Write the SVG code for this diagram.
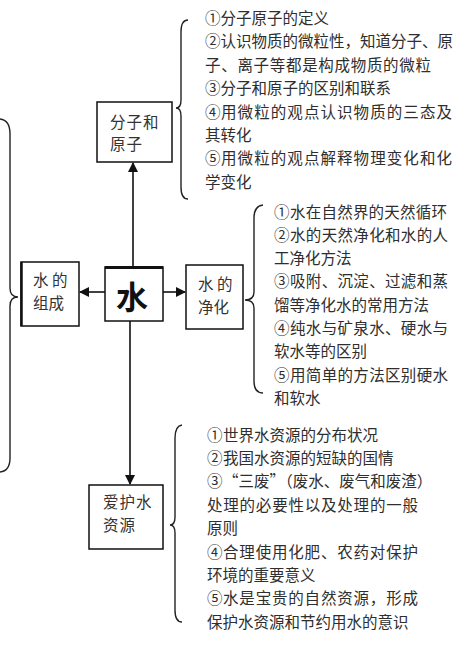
<svg xmlns="http://www.w3.org/2000/svg" width="467" height="648" viewBox="0 0 467 648">
<style>
  .box { fill: #fff; stroke: #111; stroke-width: 1.5; }
  .ln { fill: none; stroke: #111; stroke-width: 1.6; }
  .br { fill: none; stroke: #222; stroke-width: 1.4; }
  .t { font-family: "Noto Sans CJK SC", "Noto Sans", sans-serif; font-size: 15.5px; fill: #2e2e2e; }
  .n { font-family: "Noto Sans CJK SC", "Noto Sans", sans-serif; font-size: 15.5px; fill: #333; letter-spacing: 1px; }
  .n2 { font-family: "Noto Sans CJK SC", "Noto Sans", sans-serif; font-size: 15.5px; fill: #333; }
</style>
<defs>
  <marker id="ah" markerWidth="10" markerHeight="10" refX="9" refY="5" orient="auto" markerUnits="userSpaceOnUse">
    <path d="M0,0 L10,5 L0,10 Z" fill="#111"/>
  </marker>
</defs>
<rect width="467" height="648" fill="#fff"/>

<g id="connectors">
  <line class="ln" x1="133" y1="267" x2="133" y2="163" marker-end="url(#ah)"/>
  <line class="ln" x1="105" y1="292" x2="80" y2="292" marker-end="url(#ah)"/>
  <line class="ln" x1="163" y1="292" x2="185" y2="292" marker-end="url(#ah)"/>
  <line class="ln" x1="130" y1="321" x2="130" y2="484" marker-end="url(#ah)"/>
</g>

<g id="braces">
  <path class="br" d="M188,20 Q181,20 181,32 L181,100 Q181,108 176,108 Q181,108 181,116 L181,187 Q181,199 188,199"/>
  <path class="br" d="M263,205 Q254,206 254,218 L254,292 Q254,300 245,300 Q254,300 254,308 L254,381 Q254,393 263,393"/>
  <path class="br" d="M182,425 Q175,426 175,438 L175,517 Q175,525 170,525 Q175,525 175,533 L175,610 Q175,622 182,622"/>
  <path class="br" d="M0,119 Q10,120 10,134 L10,288 Q10,297 18,297 Q10,297 10,306 L10,458 Q10,471 0,472"/>
</g>

<g id="node-center">
  <rect class="box" x="105" y="267" width="58" height="54"/>
  <line x1="105" y1="267.5" x2="163" y2="267.5" stroke="#111" stroke-width="3"/>
  <text x="132" y="309" text-anchor="middle" font-family="Noto Sans CJK SC, sans-serif" font-size="32" font-weight="bold" fill="#111">水</text>
</g>

<g id="node-fenzi">
  <rect class="box" x="97" y="102" width="75" height="60"/>
  <text class="n" x="110" y="128">分子和</text>
  <text class="n" x="110" y="150">原子</text>
</g>

<g id="node-zucheng">
  <rect class="box" x="21" y="262" width="58" height="64"/>
  <line x1="21.5" y1="262" x2="21.5" y2="326" stroke="#111" stroke-width="2.5"/>
  <text class="n2" x="33" y="286">水 的</text>
  <text class="n2" x="33" y="309">组成</text>
</g>

<g id="node-jinghua">
  <rect class="box" x="186" y="265" width="57" height="64"/>
  <text class="n2" x="198" y="290">水 的</text>
  <text class="n2" x="198" y="313">净化</text>
</g>

<g id="node-aihu">
  <rect class="box" x="89" y="485" width="74" height="64"/>
  <text class="n" x="103" y="508">爱护水</text>
  <text class="n" x="103" y="531">资源</text>
</g>

<g id="list-fenzi">
  <text class="t" x="205" y="24">①<tspan x="220.5">分子原子的定义</tspan></text>
  <text class="t" x="205" y="47.4">②<tspan x="220.5">认识物质的微粒性，知道分子、原</tspan></text>
  <text class="t" x="205" y="70.8" textLength="226" lengthAdjust="spacing">子、离子等都是构成物质的微粒</text>
  <text class="t" x="205" y="94.2">③<tspan x="220.5">分子和原子的区别和联系</tspan></text>
  <text class="t" x="205" y="117.6">④<tspan x="221" textLength="231" lengthAdjust="spacing">用微粒的观点认识物质的三态及</tspan></text>
  <text class="t" x="205" y="141">其转化</text>
  <text class="t" x="205" y="164.4">⑤<tspan x="221" textLength="231" lengthAdjust="spacing">用微粒的观点解释物理变化和化</tspan></text>
  <text class="t" x="205" y="187.8">学变化</text>
</g>

<g id="list-jinghua">
  <text class="t" x="274" y="217.5">①<tspan x="290" textLength="157" lengthAdjust="spacing">水在自然界的天然循环</tspan></text>
  <text class="t" x="274" y="240.8">②<tspan x="290" textLength="158" lengthAdjust="spacing">水的天然净化和水的人</tspan></text>
  <text class="t" x="274" y="264.1">工净化方法</text>
  <text class="t" x="274" y="287.4">③<tspan x="290" textLength="158" lengthAdjust="spacing">吸附、沉淀、过滤和蒸</tspan></text>
  <text class="t" x="274" y="310.7">馏等净化水的常用方法</text>
  <text class="t" x="274" y="334">④<tspan x="290" textLength="158" lengthAdjust="spacing">纯水与矿泉水、硬水与</tspan></text>
  <text class="t" x="274" y="357.3">软水等的区别</text>
  <text class="t" x="274" y="380.6">⑤<tspan x="290" textLength="158" lengthAdjust="spacing">用简单的方法区别硬水</tspan></text>
  <text class="t" x="274" y="403.9">和软水</text>
</g>

<g id="list-aihu">
  <text class="t" x="207" y="440.5">①<tspan x="223">世界水资源的分布状况</tspan></text>
  <text class="t" x="207" y="463.9">②<tspan x="223">我国水资源的短缺的国情</tspan></text>
  <text class="t" x="207" y="487.3">③<tspan x="223">“三废”（废水、废气和废渣）</tspan></text>
  <text class="t" x="207" y="510.7" textLength="211" lengthAdjust="spacing">处理的必要性以及处理的一般</text>
  <text class="t" x="207" y="534.1">原则</text>
  <text class="t" x="207" y="557.5">④<tspan x="223" textLength="195" lengthAdjust="spacing">合理使用化肥、农药对保护</tspan></text>
  <text class="t" x="207" y="580.9">环境的重要意义</text>
  <text class="t" x="207" y="604.3">⑤<tspan x="223" textLength="195" lengthAdjust="spacing">水是宝贵的自然资源，形成</tspan></text>
  <text class="t" x="207" y="627.7">保护水资源和节约用水的意识</text>
</g>
</svg>
